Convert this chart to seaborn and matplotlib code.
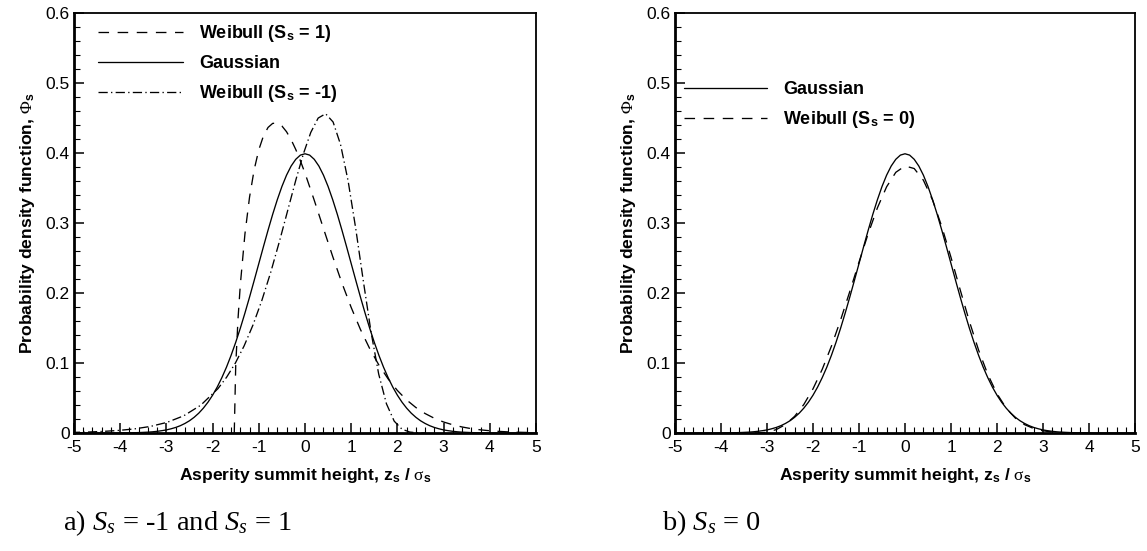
import numpy as np
import pandas as pd
import matplotlib
matplotlib.use("Agg")
import matplotlib.pyplot as plt
import seaborn as sns
from matplotlib.ticker import MultipleLocator, FuncFormatter

# ---------------------------------------------------------------------------
# Probability density of normalised asperity summit heights
# ---------------------------------------------------------------------------

# Gaussian for z >= 0, every 0.1 from 0 to 5 (the curve is symmetric)
gauss_half = [0.3989, 0.3970, 0.3910, 0.3814, 0.3683, 0.3521, 0.3332, 0.3123,
              0.2897, 0.2661, 0.2420, 0.2179, 0.1942, 0.1714, 0.1497, 0.1295,
              0.1109, 0.0940, 0.0790, 0.0656, 0.0540, 0.0440, 0.0355, 0.0283,
              0.0224, 0.0175, 0.0136, 0.0104, 0.0079, 0.0060, 0.0044, 0.0033,
              0.0024, 0.0017, 0.0012, 0.0009, 0.0006, 0.0004, 0.0003, 0.0002,
              0.0001, 0.0, 0.0, 0.0, 0.0, 0.0, 0.0, 0.0, 0.0, 0.0, 0.0]
gauss_x = np.arange(-50, 51) / 10.0
gauss_y = gauss_half[::-1] + gauss_half[1:]

# Weibull, skewness S_s = 1 (bounded below near -1.53)
weib_pos_x = [-1.531, -1.5, -1.45, -1.4, -1.3, -1.2, -1.1, -1.0, -0.9, -0.8,
              -0.7, -0.6, -0.5, -0.4, -0.3, -0.2, -0.1, 0.0,
              0.2, 0.4, 0.6, 0.8, 1.0, 1.2, 1.4, 1.6, 1.8, 2.0, 2.2, 2.4,
              2.6, 2.8, 3.0, 3.2, 3.4, 3.6, 3.8, 4.0, 4.2, 4.4, 4.6, 4.8, 5.0]
weib_pos_y = [0.0, 0.0954, 0.163, 0.2119, 0.2844, 0.3371, 0.3762, 0.4046,
              0.4243, 0.4365, 0.4423, 0.4428, 0.4386, 0.4304, 0.4190, 0.4050,
              0.3889, 0.3712,
              0.3325, 0.2921, 0.2521, 0.2141, 0.1793, 0.1479, 0.1206, 0.0970,
              0.0772, 0.0607, 0.0472, 0.0364, 0.0278, 0.0210, 0.0157, 0.0117,
              0.0086, 0.0062, 0.0045, 0.0032, 0.0023, 0.0016, 0.0011, 0.0008,
              0.0005]

# Weibull, skewness S_s = -1 (long left tail, sharp cut-off near 2)
weib_neg_x = [-5.069, -4.733, -4.392, -4.047, -3.698, -3.344, -2.986, -2.624,
              -2.257, -1.885, -1.697, -1.508, -1.318, -1.127, -0.935, -0.741,
              -0.547, -0.351, -0.193, -0.034, 0.125, 0.285, 0.446, 0.608,
              0.770, 0.934, 1.098, 1.263, 1.429, 1.595, 1.763, 1.931, 2.100,
              2.270, 2.441, 2.612]
weib_neg_y = [0.0008, 0.0013, 0.0022, 0.0036, 0.0058, 0.0094, 0.0152, 0.0246,
              0.0397, 0.0633, 0.0797, 0.0998, 0.1244, 0.1541, 0.1892, 0.2298,
              0.2752, 0.3237, 0.3627, 0.3990, 0.4294, 0.4499, 0.4561, 0.4443,
              0.4120, 0.3598, 0.2921, 0.2169, 0.1444, 0.0842, 0.0417, 0.0169,
              0.0054, 0.0013, 0.0002, 0.0]

# Weibull, skewness S_s = 0 (nearly Gaussian)
weib_zero_x = np.concatenate([[-3.264], np.arange(-32, 41, 2) / 10.0])
weib_zero_y = [0.0, 0.00003, 0.0011, 0.0048, 0.0121, 0.0238, 0.0407, 0.0631,
               0.0909, 0.1240, 0.1615, 0.2022, 0.2441, 0.2848, 0.3216, 0.3517,
               0.3724, 0.3815, 0.3778, 0.3611, 0.3327, 0.2948, 0.2509, 0.2045,
               0.1593, 0.1184, 0.0837, 0.0561, 0.0355, 0.0212, 0.0119, 0.0063,
               0.0031, 0.0014, 0.0006, 0.0002, 0.0001, 0.0]

LBL_POS = "Weibull (S$_\\mathbf{s}$ = 1)"
LBL_GAUSS = "Gaussian"
LBL_NEG = "Weibull (S$_\\mathbf{s}$ = -1)"
LBL_ZERO = "Weibull (S$_\\mathbf{s}$ = 0)"


def frame(pairs):
    parts = [pd.DataFrame({"z": x, "phi": y, "curve": name}) for name, x, y in pairs]
    return pd.concat(parts, ignore_index=True)


df_a = frame([(LBL_POS, weib_pos_x, weib_pos_y),
              (LBL_GAUSS, gauss_x, gauss_y),
              (LBL_NEG, weib_neg_x, weib_neg_y)])
df_b = frame([(LBL_GAUSS, gauss_x, gauss_y),
              (LBL_ZERO, weib_zero_x, weib_zero_y)])

dash_styles = {LBL_POS: (8, 6.5), LBL_GAUSS: "", LBL_NEG: (7, 2.5, 1, 2.5),
               LBL_ZERO: (8, 6.5)}

sns.set_theme(style="ticks")
plt.rcParams.update({
    "font.family": ["Liberation Sans", "DejaVu Sans"],
    "mathtext.fontset": "custom",
    "mathtext.rm": "Liberation Serif",
    "mathtext.it": "Liberation Serif:italic",
    "mathtext.bf": "Liberation Sans:bold",
    "axes.unicode_minus": False,
    "text.color": "black",
    "axes.labelcolor": "black",
    "xtick.color": "black",
    "ytick.color": "black",
    "axes.edgecolor": "black",
})

W, H = 1147, 551
fig = plt.figure(figsize=(W / 100, H / 100), dpi=100)
ax_a = fig.add_axes([74 / W, 118 / H, 462 / W, 420 / H])
ax_b = fig.add_axes([675 / W, 118 / H, 460 / W, 420 / H])


def draw(ax, df, order):
    sns.lineplot(data=df, x="z", y="phi", hue="curve", style="curve",
                 hue_order=order, style_order=order,
                 palette={k: "black" for k in order},
                 dashes={k: dash_styles[k] for k in order},
                 linewidth=0.95, sort=False, estimator=None, ax=ax)
    ax.set_xlim(-5, 5)
    ax.set_ylim(0, 0.6)
    ax.xaxis.set_major_locator(MultipleLocator(1))
    ax.xaxis.set_minor_locator(MultipleLocator(0.2))
    ax.yaxis.set_major_locator(MultipleLocator(0.1))
    ax.yaxis.set_minor_locator(MultipleLocator(0.02))
    ax.xaxis.set_major_formatter(FuncFormatter(lambda v, p: f"{v:.0f}"))
    ax.yaxis.set_major_formatter(
        FuncFormatter(lambda v, p: "0" if abs(v) < 1e-9 else f"{v:.1f}"))
    ax.tick_params(which="both", direction="in", top=False, right=False)
    ax.tick_params(which="major", length=7, width=1.1, labelsize=12.5)
    ax.tick_params(which="minor", length=4, width=0.8)
    ax.tick_params(axis="x", which="major", pad=5)
    ax.tick_params(axis="y", which="major", pad=3)
    for side in ("left", "bottom"):
        ax.spines[side].set_linewidth(2.0)
    for side in ("top", "right"):
        ax.spines[side].set_linewidth(1.3)
    ax.set_xlabel("Asperity summit height, z$_\\mathbf{s}$ / "
                  "$\\mathrm{\\sigma}_\\mathbf{s}$",
                  fontsize=12.6, fontweight="bold", labelpad=8)
    ax.set_ylabel("Probability density function, $\\mathrm{\\Phi}_\\mathbf{s}$",
                  fontsize=12.6, fontweight="bold", labelpad=6)
    return ax.get_lines()[:len(order)]


h_a = draw(ax_a, df_a, [LBL_POS, LBL_GAUSS, LBL_NEG])
ax_a.legend(handles=h_a, labels=[LBL_POS, LBL_GAUSS, LBL_NEG],
            loc="upper left", bbox_to_anchor=(24 / 462, 1 - 10 / 420),
            frameon=False, prop={"weight": "bold", "size": 13},
            handlelength=4.7, handletextpad=0.9, labelspacing=0.62,
            borderpad=0, borderaxespad=0)

h_b = draw(ax_b, df_b, [LBL_GAUSS, LBL_ZERO])
ax_b.legend(handles=h_b, labels=[LBL_GAUSS, LBL_ZERO],
            loc="upper left", bbox_to_anchor=(9 / 460, 1 - 68 / 420),
            frameon=False, prop={"weight": "bold", "size": 13},
            handlelength=4.6, handletextpad=0.9, labelspacing=0.62,
            borderpad=0, borderaxespad=0)

fig.text(63 / W, (H - 523) / H, "a) $S_s$ = -1 and $S_s$ = 1",
         fontsize=20.5, family="Liberation Serif", va="center", ha="left")
fig.text(662 / W, (H - 523) / H, "b) $S_s$ = 0",
         fontsize=20.5, family="Liberation Serif", va="center", ha="left")

fig.savefig("out.png", dpi=100)
